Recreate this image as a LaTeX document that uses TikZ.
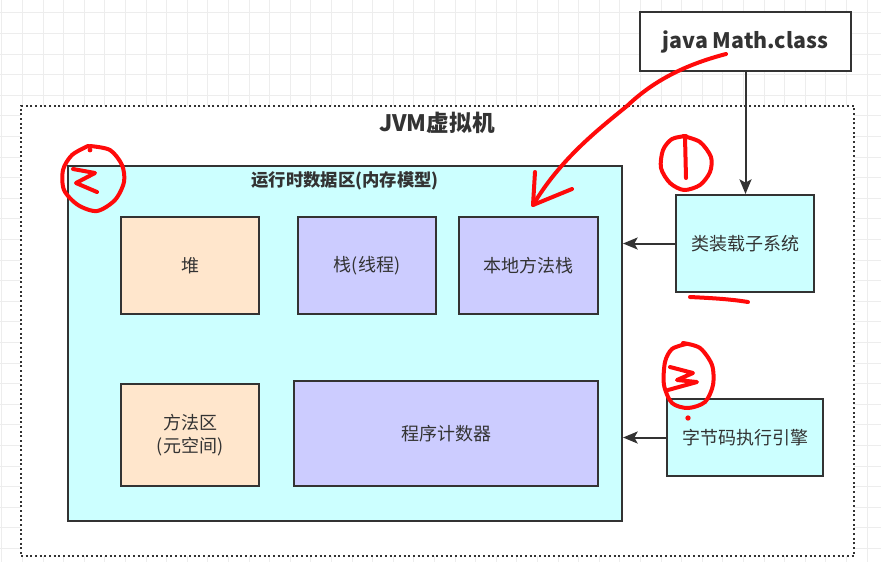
\documentclass[tikz,border=0pt]{standalone}
\usepackage{fontspec}
\setmainfont{Noto Sans CJK SC}
\usetikzlibrary{arrows.meta}
\usetikzlibrary{calc}
\definecolor{inkgray}{HTML}{333333}
\definecolor{cyanbg}{HTML}{CCFFFF}
\definecolor{peach}{HTML}{FFE6CC}
\definecolor{lilac}{HTML}{CCCCFF}
\definecolor{gridgray}{HTML}{EDEDED}
\definecolor{pen}{HTML}{FF0A0A}

\tikzset{
    area/.style={draw=inkgray,line width=1.5pt,text=inkgray,align=center,inner sep=0pt,
                 font=\fontsize{13.5}{17}\selectfont},
    heapbox/.style={area,fill=peach},
    stackbox/.style={area,fill=lilac},
    subsys/.style={area,fill=cyanbg},
    flow/.style={draw=inkgray,line width=1.5pt,-{Stealth[length=11pt,width=9pt,inset=2.5pt]}},
    scribble/.style={pen,line width=3pt,line cap=round,line join=round}
}

\begin{document}
\begin{tikzpicture}[x=0.75pt,y=-0.75pt]
                    \useasboundingbox (0,0) rectangle (881,562);
                    % background grid
                    \foreach \k in {0,...,42}
                        \draw[gridgray,line width=0.6pt] ({1.7+20.6*\k},0) -- ({1.7+20.6*\k},562);
                    \foreach \k in {0,...,27}
                        \draw[gridgray,line width=0.6pt] (0,{12.7+20.6*\k}) -- (881,{12.7+20.6*\k});

                    \node[draw=inkgray,line width=1.5pt,fill=white,minimum width=158.25pt,minimum height=44.25pt,
                          text=inkgray,font=\bfseries\fontsize{16}{19}\selectfont,name=cls] at (745.5,41.5) {java Math.class};

                    \node[draw=inkgray,line width=1.5pt,dotted,fill=white,minimum width=624.75pt,minimum height=337.5pt,name=jvm] at (437.5,331) {};
                    \node[text=inkgray,font=\bfseries\fontsize{17}{20}\selectfont,name=jvmtitle] at (437,123) {JVM虚拟机};

                    \node[area,fill=cyanbg,minimum width=415.5pt,minimum height=266.25pt,name=rt] at (345,343.5) {};
                    \node[text=inkgray,font=\bfseries\fontsize{13}{16}\selectfont,name=rttitle] at (345,181) {运行时数据区(内存模型)};

                    \node[heapbox,minimum width=103.5pt,minimum height=72.75pt,name=heap] at (190,265.5) {堆};
                    \node[stackbox,minimum width=103.5pt,minimum height=72.75pt,name=stack] at (367,265.5) {栈(线程)};
                    \node[stackbox,minimum width=104.25pt,minimum height=72.75pt,name=native] at (528.5,265.5) {本地方法栈};
                    \node[heapbox,minimum width=103.5pt,minimum height=76.5pt,name=meta] at (190,435) {方法区\\(元空间)};
                    \node[stackbox,minimum width=228pt,minimum height=78.75pt,name=pc] at (446,433.5) {程序计数器};

                    \node[subsys,minimum width=103.5pt,minimum height=72.75pt,name=loader] at (745,243.5) {类装载子系统};
                    \node[subsys,minimum width=117pt,minimum height=57.75pt,name=engine] at (745,437.5) {字节码执行引擎};

                    \draw[flow] (cls.south) -- (cls.south |- loader.north);
                    \draw[flow] (loader.west) -- (loader.west -| rt.east);
                    \draw[flow] (engine.west) -- (engine.west -| rt.east);

                    % red pen marks
                    \draw[scribble] (726,54) .. controls (680,66) and (650,84) .. (627,106)
                                    .. controls (595,132) and (560,160) .. (533,205);
                    \draw[scribble] (535,172) -- (533,205) -- (572,189);
                    \draw[scribble] plot[smooth] coordinates {(683,136) (700,142) (711,157) (710,172) (700,185) (684,190) (670,183) (661,168) (663,150) (672,139) (686,136)};
                    \draw[scribble] (685,137) -- (686,178);
                    \draw[scribble] plot[smooth] coordinates {(90,146) (110,150) (122,165) (124,182) (115,200) (97,211) (78,205) (64,190) (63,170) (72,155) (88,146)};
                    \draw[scribble] (73,169) -- (95,173) -- (76,183) -- (97,192);
                    \fill[pen] (90,150) circle (1.8pt);
                    \draw[scribble] (690,297) .. controls (710,298) and (730,299) .. (748,302);
                    \draw[scribble] plot[smooth] coordinates {(683,343) (700,348) (712,365) (713,385) (705,402) (688,408) (672,403) (664,385) (665,362) (672,349) (686,344)};
                    \draw[scribble] (670,367) -- (693,373) -- (677,380) -- (697,382) -- (668,390);
                    \fill[pen] (688,418) circle (2pt);
                \end{tikzpicture}
\end{document}
